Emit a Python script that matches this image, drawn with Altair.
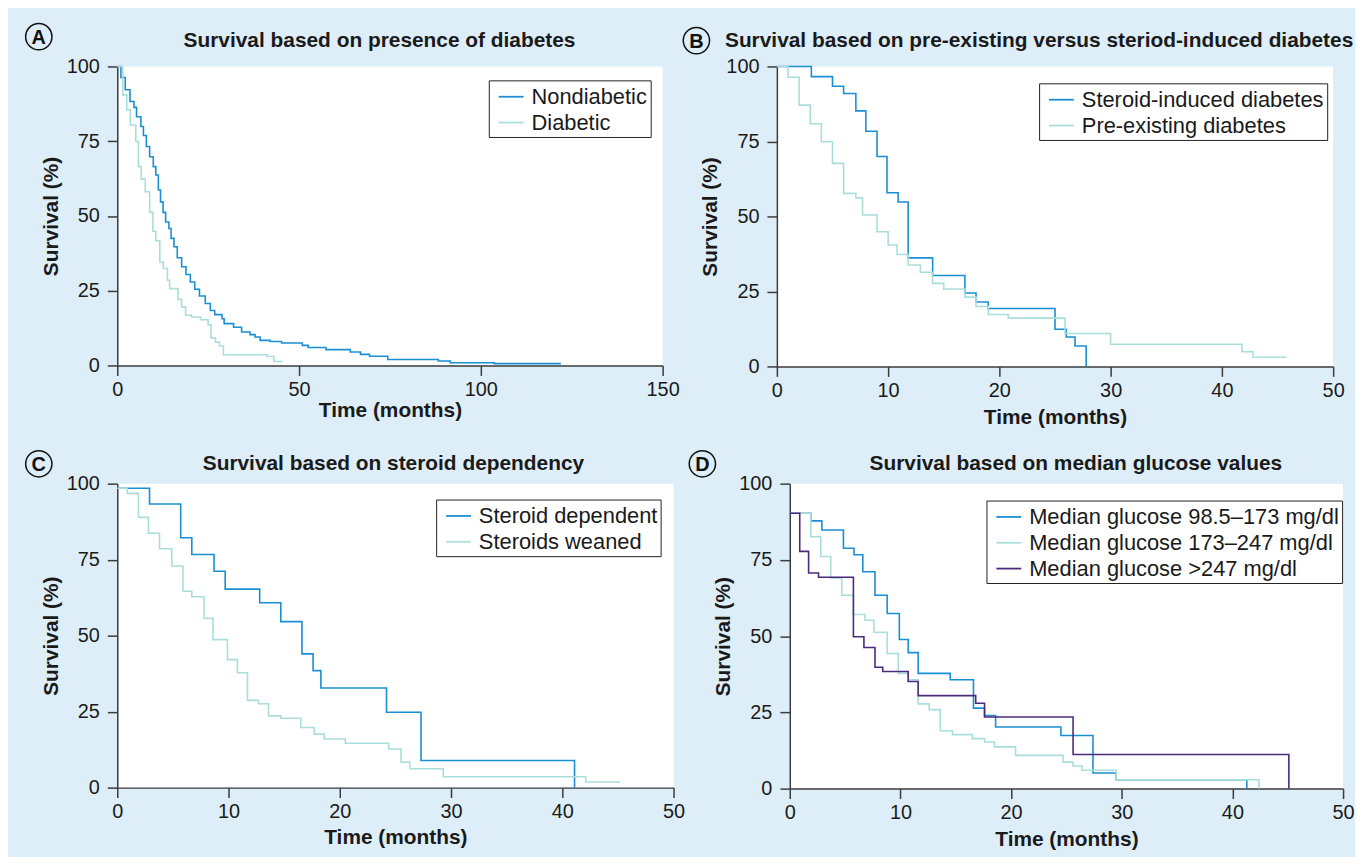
import altair as alt
import pandas as pd

FONT = "Liberation Sans"
BG = "#ddeef8"
BLUE = "#1a8fd3"
LIGHT = "#aadedb"
PURPLE = "#4b2b7c"
INK = "#1a1a1a"
AXIS = "#3b3b3b"

# ---------------- Panel A: survival by presence of diabetes ----------------
A_TITLE = "Survival based on presence of diabetes"
A_NAMES = ["Nondiabetic", "Diabetic"]
A_NONDIAB_T = [0, 1.0, 2.2, 3.5, 4.6, 5.3, 6.5, 7.2, 8.0, 8.9, 9.9, 10.6, 11.3, 11.9, 12.6,
               13.3, 14.2, 14.8, 15.6, 16.5, 17.7, 18.9, 20.1, 21.3, 22.6, 24.2, 25.6, 26.8,
               28.8, 29.4, 32.0, 34.2, 36.5, 37.9, 39.3, 42.0, 45.2, 50.9, 52.5, 57.4, 64.1,
               66.9, 69.4, 74.4, 88.3, 91.6, 103.7, 122.0]
A_NONDIAB_S = [100, 96.3, 92.2, 88.3, 86.3, 83.2, 79.9, 76.9, 73.2, 69.8, 66.5, 63.7, 58.7, 54.7,
               51.2, 48.0, 45.8, 42.5, 39.7, 36.0, 33.0, 30.4, 27.9, 25.5, 23.2, 20.7, 18.4, 17.0,
               15.6, 14.0, 12.8, 11.2, 10.3, 9.5, 8.4, 8.0, 7.5, 6.7, 6.0, 5.3, 4.5, 3.7, 3.1,
               2.0, 1.5, 0.9, 0.6, 0.6]
A_DIAB_T = [0, 1.5, 2.6, 3.6, 5.1, 5.8, 6.6, 7.7, 8.9, 9.8, 10.6, 11.7, 12.7, 13.8, 14.4, 16.7,
            17.7, 18.8, 20.4, 22.9, 25.0, 25.8, 27.0, 28.1, 29.2, 41.3, 43.1, 45.5]
A_DIAB_S = [100, 90.5, 85.5, 80.4, 74.9, 66.5, 62.3, 58.1, 51.2, 44.9, 41.7, 34.6, 32.4, 28.5,
            25.7, 22.1, 19.6, 16.8, 16.2, 15.3, 13.6, 9.2, 7.8, 6.5, 3.6, 3.0, 1.3, 1.3]
A_XTICKS = [0, 50, 100, 150]

# ---------------- Panel B: pre-existing vs steroid-induced ----------------
B_TITLE = "Survival based on pre-existing versus steriod-induced diabetes"
B_NAMES = ["Steroid-induced diabetes", "Pre-existing diabetes"]
B_STER_T = [0, 3.1, 5.0, 6.0, 7.1, 8.0, 9.0, 9.9, 10.9, 11.8, 14.0, 16.9, 17.9, 19.0, 25.0,
            26.0, 26.8, 27.8]
B_STER_S = [100, 96.6, 93.4, 91.0, 85.2, 78.4, 70.0, 57.9, 54.8, 36.2, 30.3, 24.5, 21.5, 19.3,
            12.4, 9.8, 6.8, 0]
B_PRE_T = [0, 1.0, 2.0, 3.0, 4.0, 5.0, 6.0, 7.1, 7.7, 9.0, 10.0, 10.8, 11.8, 12.9, 14.0, 15.0,
           16.9, 17.9, 19.0, 20.8, 25.9, 30.0, 41.8, 42.8, 45.8]
B_PRE_S = [100, 96.4, 87.1, 80.9, 74.9, 67.7, 57.7, 56.2, 50.5, 44.9, 40.5, 37.3, 33.8, 31.4,
           27.7, 25.8, 23.1, 20.0, 17.3, 16.1, 11.0, 7.4, 4.9, 3.05, 3.05]

# ---------------- Panel C: steroid dependency ----------------
C_TITLE = "Survival based on steroid dependency"
C_NAMES = ["Steroid dependent", "Steroids weaned"]
C_DEP_T = [0, 2.9, 5.7, 6.7, 8.7, 9.7, 12.8, 14.7, 16.6, 17.6, 18.3, 24.2, 27.3, 41.1]
C_DEP_S = [98.5, 93.3, 82.2, 76.7, 71.2, 65.3, 60.8, 54.6, 44.0, 38.5, 32.8, 24.8, 8.9, 0]
C_WEAN_T = [0, 0.9, 1.9, 2.8, 3.8, 4.9, 5.9, 6.7, 7.8, 8.6, 9.9, 10.8, 11.7, 12.7, 13.6, 14.7,
            16.5, 17.7, 18.6, 20.5, 24.4, 25.5, 26.3, 29.3, 42.1, 45.2]
C_WEAN_S = [98.5, 96.8, 88.9, 83.7, 78.6, 72.9, 64.6, 62.8, 55.7, 48.7, 42.1, 37.8, 28.7, 27.6,
            23.6, 22.8, 19.8, 17.6, 16.0, 14.6, 12.7, 8.4, 6.2, 3.6, 1.85, 1.85]

# ---------------- Panel D: median glucose ----------------
D_TITLE = "Survival based on median glucose values"
D_NAMES = ["Median glucose 98.5\u2013173 mg/dl", "Median glucose 173\u2013247 mg/dl",
           "Median glucose >247 mg/dl"]
D_LOW_T = [0, 1.9, 2.9, 4.85, 5.8, 6.6, 7.7, 8.8, 9.9, 10.7, 11.6, 14.5, 16.6, 17.6, 18.6,
           24.5, 27.4, 29.5, 41.3]
D_LOW_S = [90.3, 87.8, 84.8, 78.8, 76.7, 71.1, 63.4, 57.4, 48.9, 44.6, 37.8, 35.7, 26.4, 24.0,
           20.2, 17.4, 5.1, 2.9, 0]
D_MID_T = [0, 1.9, 2.8, 3.7, 4.7, 5.75, 6.8, 7.6, 8.8, 9.8, 10.7, 11.6, 12.6, 13.6, 14.7, 16.5,
           17.6, 18.5, 20.4, 24.7, 25.6, 26.4, 29.5, 42.4]
D_MID_S = [90.3, 82.6, 76.1, 69.0, 63.4, 57.1, 55.2, 51.3, 44.3, 37.8, 35.7, 27.8, 25.9, 19.0,
           17.7, 16.4, 15.3, 13.7, 10.9, 8.7, 7.4, 6.0, 2.9, 0]
D_HIGH_T = [0, 0.9, 1.7, 2.6, 5.75, 6.7, 7.7, 8.4, 10.7, 11.6, 16.8, 17.6, 25.6, 45.1]
D_HIGH_S = [90.3, 77.8, 70.7, 69.3, 49.8, 46.3, 39.8, 38.4, 35.1, 30.5, 28.0, 23.5, 11.2, 0]

X50_TICKS = [0, 10, 20, 30, 40, 50]
Y_TICKS = [0, 25, 50, 75, 100]


def km_frame(series):
    rows = []
    for name, ts, ss in series:
        for i, (t, s) in enumerate(zip(ts, ss)):
            rows.append({"series": name, "t": t, "s": s, "i": i})
    return pd.DataFrame(rows)


def panel(letter, title, series, colors, xmax, xticks, w, h,
          leg_xy, title_xy, letter_xy, xtitle_pad):
    df = km_frame(series)
    names = [s[0] for s in series]
    lines = alt.Chart(df).mark_line(interpolate="step-after", strokeWidth=1.6).encode(
        x=alt.X("t:Q", scale=alt.Scale(domain=[0, xmax], nice=False),
                axis=alt.Axis(values=xticks, title="Time (months)", titlePadding=xtitle_pad,
                              labelFlush=False, labelOverlap=False)),
        y=alt.Y("s:Q", scale=alt.Scale(domain=[0, 100], nice=False),
                axis=alt.Axis(values=Y_TICKS, title="Survival (%)", labelOverlap=False)),
        color=alt.Color("series:N", sort=names,
                        scale=alt.Scale(domain=names, range=colors),
                        legend=alt.Legend(orient="none", legendX=leg_xy[0], legendY=leg_xy[1],
                                          title=None)),
        order=alt.Order("i:Q"),
    )
    ttl = alt.Chart(pd.DataFrame({"label": [title]})).mark_text(
        font=FONT, fontSize=21, fontWeight="bold", color=INK, align="center", baseline="middle"
    ).encode(text="label:N", x=alt.value(title_xy[0]), y=alt.value(title_xy[1]))
    ring = alt.Chart(pd.DataFrame({"label": [letter]})).mark_point(
        shape="circle", size=700, filled=False, color="#111111", strokeWidth=1.5, opacity=1
    ).encode(x=alt.value(letter_xy[0]), y=alt.value(letter_xy[1]))
    let = alt.Chart(pd.DataFrame({"label": [letter]})).mark_text(
        font=FONT, fontSize=20, fontWeight="bold", color="#111111", align="center",
        baseline="middle", dy=1
    ).encode(text="label:N", x=alt.value(letter_xy[0]), y=alt.value(letter_xy[1]))
    return alt.layer(lines, ttl, ring, let).properties(width=w, height=h)


pA = panel("A", A_TITLE,
           [(A_NAMES[0], A_NONDIAB_T, A_NONDIAB_S), (A_NAMES[1], A_DIAB_T, A_DIAB_S)],
           [BLUE, LIGHT], 150, A_XTICKS, 549, 301,
           (374, 14), (264, -26), (-79, -30), 0)
pB = panel("B", B_TITLE,
           [(B_NAMES[0], B_STER_T, B_STER_S), (B_NAMES[1], B_PRE_T, B_PRE_S)],
           [BLUE, LIGHT], 50, X50_TICKS, 560, 302,
           (264, 17), (264, -26), (-81, -26), 6)
pC = panel("C", C_TITLE,
           [(C_NAMES[0], C_DEP_T, C_DEP_S), (C_NAMES[1], C_WEAN_T, C_WEAN_S)],
           [BLUE, LIGHT], 50, X50_TICKS, 560, 306,
           (321, 16), (278, -20), (-79, -20), 5)
pD = panel("D", D_TITLE,
           [(D_NAMES[0], D_LOW_T, D_LOW_S), (D_NAMES[1], D_MID_T, D_MID_S),
            (D_NAMES[2], D_HIGH_T, D_HIGH_S)],
           [BLUE, LIGHT, PURPLE], 50, X50_TICKS, 557, 307,
           (198, 17), (288, -20), (-88, -20), 6)

row1 = alt.hconcat(pA, pB, spacing=0).resolve_scale(color="independent").resolve_legend(color="independent")
row2 = alt.hconcat(pC, pD, spacing=0).resolve_scale(color="independent").resolve_legend(color="independent")

chart = alt.vconcat(row1, row2, spacing=20).resolve_scale(
    color="independent"
).resolve_legend(color="independent").properties(
    background=BG,
    padding={"left": 14, "top": 9, "right": 0, "bottom": 5},
).configure(font=FONT).configure_view(
    fill="white", strokeWidth=0
).configure_axis(
    labelFont=FONT, labelFontSize=20, labelColor=INK,
    titleFont=FONT, titleFontSize=21, titleFontWeight="bold", titleColor=INK,
    domainColor=AXIS, domainWidth=1.5, tickColor=AXIS, tickWidth=1.5, tickSize=10,
    grid=False,
).configure_axisX(labelPadding=4).configure_axisY(labelPadding=8, titlePadding=5).configure_legend(
    labelFont=FONT, labelFontSize=22, labelColor=INK, labelLimit=600,
    symbolType="stroke", symbolSize=625, symbolStrokeWidth=1.8,
    strokeColor="#222222", fillColor="white", padding=3, rowPadding=1,
    labelOffset=7, symbolOffset=6,
)

chart.save("out.html", embed_options={"renderer": "svg", "actions": False})
